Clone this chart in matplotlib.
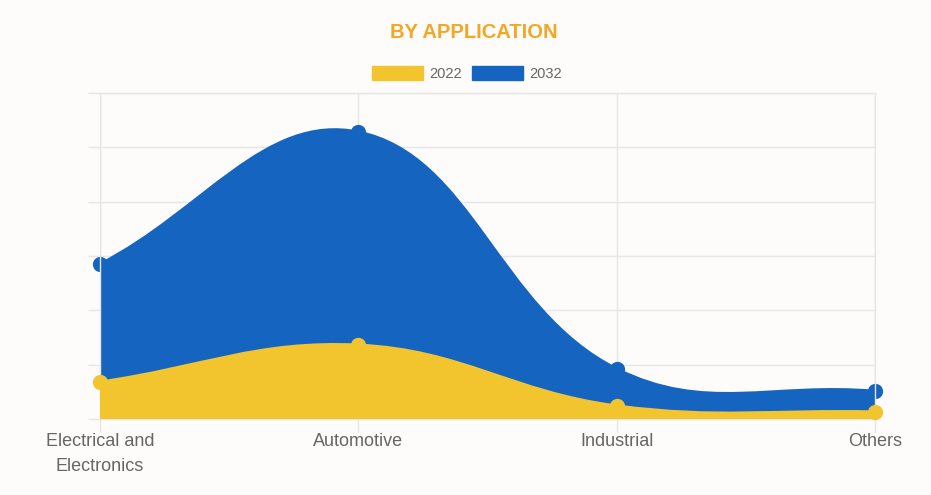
import numpy as np
import matplotlib
matplotlib.use("Agg")
import matplotlib.pyplot as plt
from matplotlib.path import Path
from matplotlib.patches import PathPatch, Patch

# ---- data ----
categories = ["Electrical and\nElectronics", "Automotive", "Industrial", "Others"]
series_names = ["2022", "2032"]
values_2022 = [6.8, 13.6, 2.4, 1.3]
values_2032 = [28.5, 52.8, 9.2, 5.1]
y_max = 60
y_step = 10

# ---- style ----
BG = "#fdfcfa"
YELLOW = "#f2c52e"
BLUE = "#1565c0"
GRID = "#e6e6e6"
TITLE_C = "#f5a623"
TEXT_C = "#666666"
FONT = ["Liberation Sans", "DejaVu Sans"]
plt.rcParams["font.family"] = FONT

W, H, DPI = 931, 495, 100
fig = plt.figure(figsize=(W / DPI, H / DPI), dpi=DPI, facecolor=BG)
left, right, top, bottom = 100, 875, 93, 419
ax = fig.add_axes([left / W, 1 - bottom / H, (right - left) / W, (bottom - top) / H])
ax.set_facecolor(BG)

x = np.arange(len(categories))
ax.set_xlim(0, len(categories) - 1)
ax.set_ylim(0, y_max)
ax.set_xticks(x)
ax.set_xticklabels(categories, fontsize=13, color=TEXT_C, linespacing=1.65)
ax.set_yticks(np.arange(0, y_max + 1, y_step))
ax.set_yticklabels([])
ax.tick_params(axis="both", length=9, width=1, color=GRID, pad=1)
ax.grid(True, color=GRID, lw=1)
ax.set_axisbelow(True)
for s in ax.spines.values():
    s.set_color(GRID)
    s.set_linewidth(1)


def spline_path(xs, ys, t=0.4):
    """Chart.js-style cardinal spline computed in display space."""
    pts = ax.transData.transform(np.column_stack([xs, ys]))
    n = len(pts)
    cp_prev, cp_next = [], []
    for i in range(n):
        p0 = pts[max(i - 1, 0)]
        p1 = pts[i]
        p2 = pts[min(i + 1, n - 1)]
        d01 = np.hypot(*(p1 - p0))
        d12 = np.hypot(*(p2 - p1))
        tot = d01 + d12
        s01 = d01 / tot if tot else 0
        s12 = d12 / tot if tot else 0
        fa, fb = t * s01, t * s12
        cp_prev.append(p1 - fa * (p2 - p0))
        cp_next.append(p1 + fb * (p2 - p0))
    inv = ax.transData.inverted()
    verts = [inv.transform(pts[0])]
    codes = [Path.MOVETO]
    for i in range(n - 1):
        verts += [inv.transform(cp_next[i]), inv.transform(cp_prev[i + 1]), inv.transform(pts[i + 1])]
        codes += [Path.CURVE4] * 3
    return verts, codes


def draw_area(vals, color, z):
    verts, codes = spline_path(x, vals)
    line = PathPatch(Path(verts, codes), fill=False, edgecolor=color, lw=2.2, zorder=z + 0.1,
                     capstyle="round", joinstyle="round")
    fv = verts + [(x[-1], 0), (x[0], 0), verts[0]]
    fc = codes + [Path.LINETO, Path.LINETO, Path.CLOSEPOLY]
    area = PathPatch(Path(fv, fc), facecolor=color, edgecolor="none", zorder=z)
    ax.add_patch(area)
    ax.add_patch(line)
    ax.plot(x, vals, "o", color=color, markersize=11, markeredgewidth=0, zorder=z + 0.2, clip_on=False)


draw_area(values_2032, BLUE, 2)
draw_area(values_2022, YELLOW, 3)

# title
fig.text(474 / W, 1 - 38.5 / H, "BY APPLICATION", ha="center", va="baseline",
         fontsize=14.5, fontweight="bold", color=TITLE_C)

# legend
handles = [Patch(facecolor=YELLOW, edgecolor=YELLOW), Patch(facecolor=BLUE, edgecolor=BLUE)]
fig.legend(handles, series_names, loc="center", bbox_to_anchor=(467 / W, 1 - 73.5 / H),
           ncol=2, frameon=False, fontsize=10.5, handlelength=3.5, handleheight=1.15,
           handletextpad=0.4, columnspacing=0.7, labelcolor=TEXT_C, borderaxespad=0, borderpad=0)

fig.savefig("out.png", dpi=DPI, facecolor=BG)
